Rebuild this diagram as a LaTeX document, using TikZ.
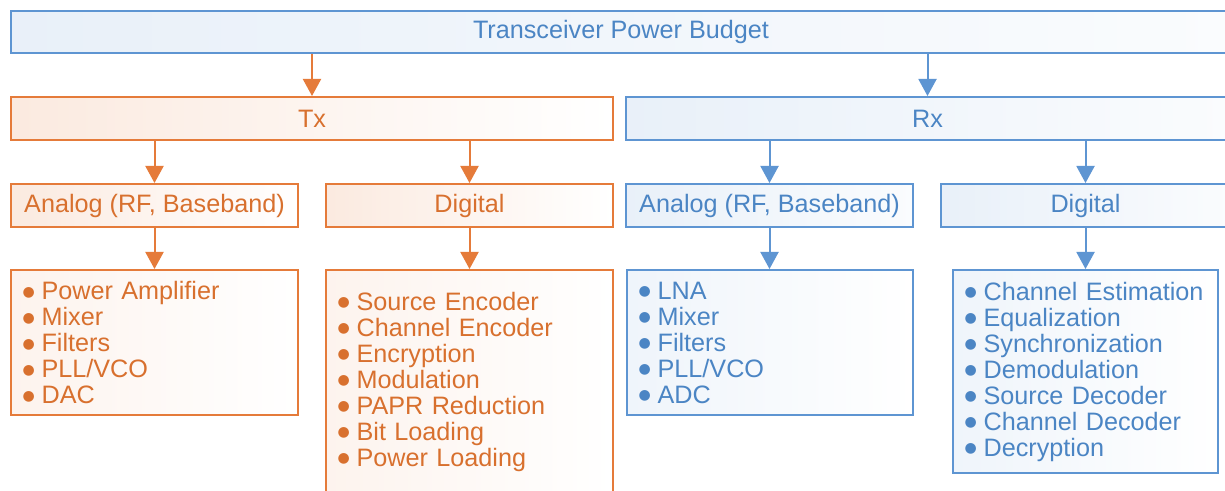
\documentclass[tikz,border=0pt]{standalone}
\usepackage{fontspec}
\setmainfont{Liberation Sans}
\newfontfamily\dvfont{DejaVu Sans}
\usetikzlibrary{arrows.meta}
\definecolor{ora}{HTML}{E57B3A}
\definecolor{orat}{HTML}{D8702E}
\definecolor{blu}{HTML}{5E95D2}
\definecolor{blut}{HTML}{4B85C4}
\newcommand\bl{\makebox[9.5pt][l]{\raisebox{1.6pt}{\dvfont\fontsize{7}{7}\selectfont ●}}}
\begin{document}
\begin{tikzpicture}[x=0.5pt,y=-0.5pt,
  box/.style={draw, line width=1pt, inner sep=0pt, anchor=north west,
    font=\fontsize{12.6}{13}\selectfont},
  obox/.style={box, draw=ora, text=orat, left color=ora!16, right color=white},
  bbox/.style={box, draw=blu, text=blut, left color=blu!14, right color=blu!3},
  olist/.style={obox, align=left, inner xsep=5.8pt, left color=ora!9, right color=white},
  blist/.style={bbox, align=left, inner xsep=5.8pt, left color=blu!10, right color=white},
  oarr/.style={draw=ora, line width=1pt, -{Triangle[width=9pt,length=8.5pt]}},
  barr/.style={draw=blu, line width=1pt, -{Triangle[width=9pt,length=8.5pt]}}
]
\useasboundingbox (0,0) rectangle (1225,491);
\fill[white] (0,0) rectangle (1225,491);

\node[bbox, minimum width=610pt, minimum height=21pt] (top) at (10,10) {Transceiver Power Budget};

\node[obox, minimum width=301pt, minimum height=21.5pt] (tx) at (10,96) {Tx};
\node[bbox, minimum width=301.5pt, minimum height=21.5pt] (rx) at (625,96) {Rx};

\node[obox, minimum width=143.5pt, minimum height=21.5pt] (txa) at (10,183) {Analog (RF, Baseband)};
\node[obox, minimum width=143.5pt, minimum height=21.5pt] (txd) at (325,183) {Digital};
\node[bbox, minimum width=143.5pt, minimum height=21.5pt] (rxa) at (625,183) {Analog (RF, Baseband)};
\node[bbox, minimum width=144.5pt, minimum height=21.5pt] (rxd) at (940,183) {Digital};

\node[olist, text width=131.9pt, minimum height=72.5pt] (txal) at (10,269)
  {\bl Power Amplifier\\\bl Mixer\\\bl Filters\\\bl PLL/VCO\\\bl DAC};
\node[olist, text width=131.9pt, minimum height=111.5pt] (txdl) at (325,269)
  {\bl Source Encoder\\\bl Channel Encoder\\\bl Encryption\\\bl Modulation\\\bl PAPR Reduction\\\bl Bit Loading\\\bl Power Loading};
\node[blist, text width=131.4pt, minimum height=72.5pt] (rxal) at (626,269)
  {\bl LNA\\\bl Mixer\\\bl Filters\\\bl PLL/VCO\\\bl ADC};
\node[blist, text width=120.9pt, minimum height=101.5pt] (rxdl) at (952,269)
  {\bl Channel Estimation\\\bl Equalization\\\bl Synchronization\\\bl Demodulation\\\bl Source Decoder\\\bl Channel Decoder\\\bl Decryption};

\draw[oarr] (top.south -| tx.north) -- (tx.north);
\draw[barr] (top.south -| rx.north) -- (rx.north);
\draw[oarr] (tx.south -| txa.north) -- (txa.north);
\draw[oarr] (tx.south -| txd.north) -- (txd.north);
\draw[barr] (rx.south -| rxa.north) -- (rxa.north);
\draw[barr] (rx.south -| rxd.north) -- (rxd.north);
\draw[oarr] (txa.south) -- (txa.south |- txal.north);
\draw[oarr] (txd.south) -- (txd.south |- txdl.north);
\draw[barr] (rxa.south) -- (rxa.south |- rxal.north);
\draw[barr] (rxd.south) -- (rxd.south |- rxdl.north);
\end{tikzpicture}
\end{document}
